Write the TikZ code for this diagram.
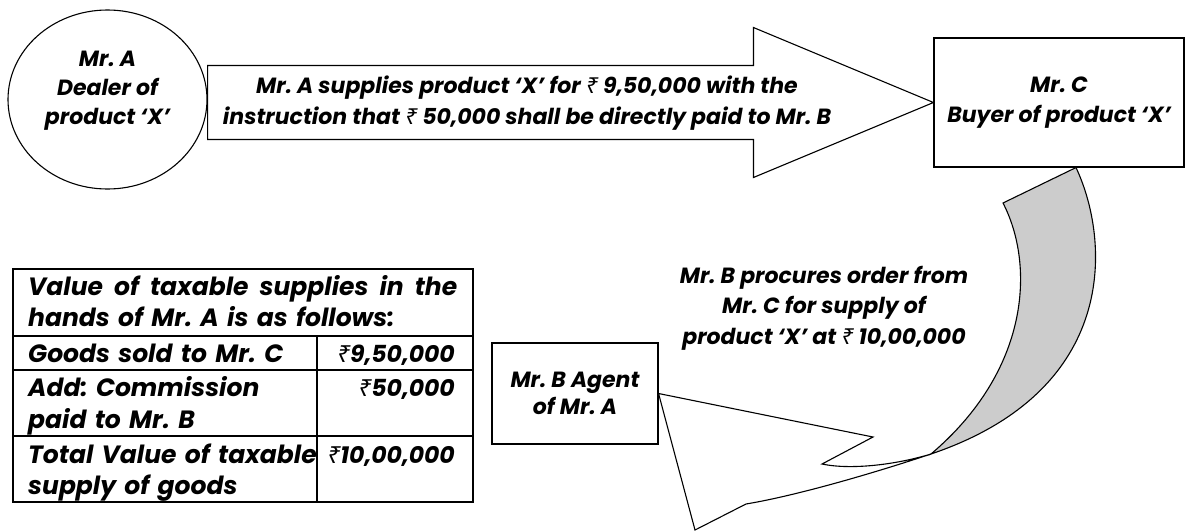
\documentclass[tikz,border=0pt]{standalone}
\usepackage{fontspec}
\setmainfont{Poppins}
\newfontfamily\rupeefont{Noto Sans}
\usepackage{xcolor}
\usetikzlibrary{shapes.geometric,calc}
\definecolor{ribbon}{HTML}{CCCCCC}
\frenchspacing
\newcommand{\rs}{{\rupeefont ₹}}
\newcommand{\sayfont}[1][30.5]{\bfseries\itshape\fontsize{22}{#1}\selectfont}
\newcommand{\tblfont}{\bfseries\itshape\fontsize{25}{31.5}\selectfont}
\newcommand{\amtfont}{\bfseries\itshape\fontsize{23.5}{31.5}\selectfont}
\tikzset{
  party/.style  = {draw, line width=1.1pt, fill=white, inner sep=0pt, align=center, font=\sayfont},
  say/.style    = {inner sep=0pt, align=center, font=\sayfont},
  block/.style  = {draw, line width=1.1pt, fill=white, line join=miter},
  ribbonback/.style  = {draw, line width=1.1pt, fill=ribbon, line join=miter},
  ribbonfront/.style = {draw, line width=1.1pt, fill=white, line join=miter},
  grid/.style   = {line width=1.5pt},
  cell/.style   = {inner sep=0pt, font=\tblfont, align=left, anchor=base west},
  amount/.style = {inner sep=0pt, font=\amtfont, align=right, text width=140pt, anchor=base east},
}

\begin{document}
\begin{tikzpicture}[x=1pt, y=-1pt]
  \useasboundingbox (0,0) rectangle (1186,531);

  % the three parties
  \node[party, ellipse, minimum width=199pt, minimum height=179pt] (dealer) at (107.5,99.5) {};
  \node[say, font={\sayfont[29]}] (dealertext) at (107.5,91) {Mr. A\\Dealer of\\product ‘X’};
  \node[party, minimum width=250pt, minimum height=129pt] (buyer) at (1059,102.5) {Mr. C\\Buyer of product ‘X’};
  \node[party, font={\sayfont[27]}, minimum width=166pt, minimum height=101pt] (agent) at (575,393.5) {Mr. B Agent\\of Mr. A};

  % supply: A to C
  \draw[block] let \p1=(dealer.east), \p2=(buyer.west) in
    (\x1,{\y2+37pt}) -- ({\x2-180pt},{\y2+37pt}) -- ({\x2-180pt},{\y2+75pt}) -- (\p2)
    -- ({\x2-180pt},{\y2-75pt}) -- ({\x2-180pt},{\y2-37pt}) -- (\x1,{\y2-37pt}) -- cycle;
  \node[say] (supply) at (527,103) {Mr. A supplies product ‘X’ for \rs{} 9,50,000 with the\\instruction that \rs{} 50,000 shall be directly paid to Mr. B};

  % order: C to B, twisted ribbon
  \coordinate (rA) at ($(buyer.south)+(17,0)$);
  \coordinate (rB) at (1003,203);
  \coordinate (rX) at (931,454);
  \draw[ribbonback] (rA) .. controls (1110,240) and (1120,390) .. (rX)
    .. controls (1030,370) and (1035,265) .. (rB) -- cycle;
  \draw[ribbonfront] (rX) .. controls (880,471) and (800,495) .. (746,504) -- (695,530)
    -- (agent.east) -- (873,437) -- (822,464) .. controls (850,470) and (895,465) .. (rX) -- cycle;
  \node[say] (order) at (824,308) {Mr. B procures order from\\Mr. C for supply of\\product ‘X’ at \rs{} 10,00,000};

  % value table
  \draw[grid] (13,269) rectangle (473,502);
  \draw[grid] (13,336) -- (473,336) (13,370) -- (473,370) (13,436) -- (473,436);
  \draw[grid] (317,336) -- (317,502);
  \node[cell, text width=429pt] (head) at (28,295)
    {\hbox to 429pt{Value \hfill of \hfill taxable \hfill supplies \hfill in \hfill the}\\hands of Mr. A is as follows:};
  \node[cell, text width=284pt] (goods) at (28,362.5) {Goods sold to Mr. C};
  \node[cell, text width=284pt] (comm) at (28,396.5) {Add: Commission\\paid to Mr. B};
  \node[cell, text width=284pt] (total) at (28,463)
    {\hbox to 284pt{Total \hfill Value \hfill of \hfill taxable}\\supply of goods};
  \node[amount] (goodsamt) at (455,362.5) {\rs9,50,000};
  \node[amount] (commamt) at (455,396.5) {\rs50,000};
  \node[amount] (totalamt) at (455,463) {\rs10,00,000};
\end{tikzpicture}
\end{document}
